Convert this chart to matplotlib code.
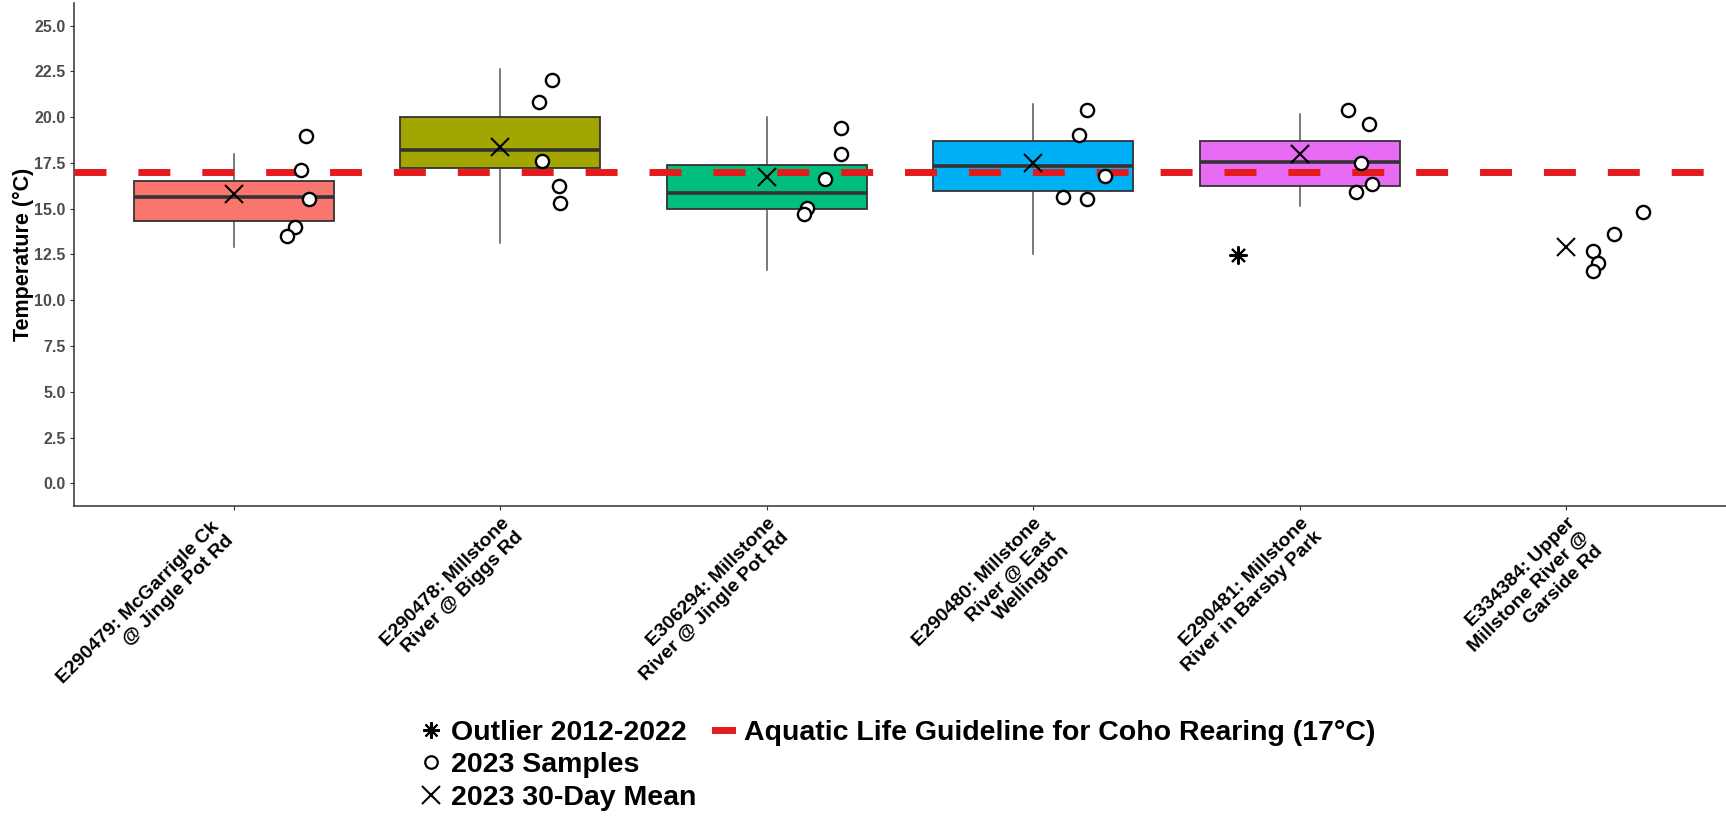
import numpy as np
import matplotlib
matplotlib.use("Agg")
import matplotlib.pyplot as plt
from matplotlib.lines import Line2D
from matplotlib.transforms import ScaledTranslation

plt.rcParams['font.family'] = ['Liberation Sans', 'DejaVu Sans']

sites = [
    "E290479: McGarrigle Ck\n@ Jingle Pot Rd",
    "E290478: Millstone\nRiver @ Biggs Rd",
    "E306294: Millstone\nRiver @ Jingle Pot Rd",
    "E290480: Millstone\nRiver @ East\nWellington",
    "E290481: Millstone\nRiver in Barsby Park",
    "E334384: Upper\nMillstone River @\nGarside Rd",
]
box_colors = ["#F8766D", "#A3A500", "#00BF7D", "#00B0F6", "#E76BF3"]

# 2012-2022 box stats: whisker low, q1, median, q3, whisker high (last site has none)
whislo = [12.93, 13.15, 11.64, 12.55, 15.15]
q1 = [14.33, 17.21, 14.97, 15.97, 16.25]
med = [15.66, 18.23, 15.88, 17.32, 17.57]
q3 = [16.52, 20.02, 17.39, 18.72, 18.72]
whishi = [18.0, 22.62, 20.0, 20.71, 20.2]

# outlier 2012-2022 (site index, value, jitter)
outlier_site = 4
outlier_val = 12.49
outlier_jit = -0.23

# 2023 30-day means
means = [15.8, 18.39, 16.75, 17.49, 17.98, 12.93]

# 2023 samples and their jitter
samples = [
    [19.0, 17.12, 15.52, 14.02, 13.51],
    [22.02, 20.82, 17.63, 16.23, 15.32],
    [19.42, 18.01, 16.63, 15.06, 14.72],
    [20.42, 19.02, 16.81, 15.63, 15.52],
    [20.42, 19.63, 17.52, 16.34, 15.92],
    [14.83, 13.62, 12.71, 12.02, 11.62],
]
jitter = [
    [0.27, 0.25, 0.28, 0.23, 0.20],
    [0.195, 0.146, 0.155, 0.22, 0.225],
    [0.28, 0.28, 0.22, 0.15, 0.14],
    [0.20, 0.17, 0.27, 0.11, 0.20],
    [0.18, 0.26, 0.23, 0.27, 0.21],
    [0.29, 0.18, 0.10, 0.12, 0.10],
]

guideline = 17.0

fig = plt.figure(figsize=(17.26, 8.17), dpi=100)
ax = fig.add_axes([0.0429, 0.3805, 0.9571, 0.616])

stats = []
for i in range(len(q1)):
    stats.append(dict(whislo=whislo[i], q1=q1[i], med=med[i], q3=q3[i],
                      whishi=whishi[i], fliers=[]))
bp = ax.bxp(stats, positions=np.arange(1, len(q1) + 1), widths=0.75,
            patch_artist=True, showfliers=False, showcaps=False,
            boxprops=dict(edgecolor="#333333", linewidth=1.3),
            medianprops=dict(color="#333333", linewidth=2.6),
            whiskerprops=dict(color="#555555", linewidth=1.1))
for patch, c in zip(bp['boxes'], box_colors):
    patch.set_facecolor(c)
for w in bp['whiskers']:
    w.set_zorder(1)

ax.axhline(guideline, color="#E41A1C", linewidth=5, linestyle=(0, (4.6, 4.6)), zorder=3)

for i, (vals, jit) in enumerate(zip(samples, jitter)):
    ax.plot(i + 1 + np.array(jit), vals, 'o', markersize=9.5, markerfacecolor='white',
            markeredgecolor='black', markeredgewidth=1.7, linestyle='none', zorder=5)

ax.plot(np.arange(1, len(means) + 1), means, 'x', markersize=13, color='black',
        markeredgewidth=1.5, linestyle='none', zorder=6)
ax.plot([outlier_site + 1 + outlier_jit], [outlier_val], marker=(8, 2, 0), markersize=13,
        color='black', markeredgewidth=1.5, linestyle='none', zorder=6)

ax.set_xlim(0.4, 6.6)
ax.set_ylim(-1.25, 26.25)
ax.set_yticks(np.arange(0, 25.1, 2.5))
ax.set_yticklabels([f"{v:.1f}" for v in np.arange(0, 25.1, 2.5)],
                   fontsize=11.5, fontweight='bold', color="#4D4D4D")
ax.set_xticks(np.arange(1, len(sites) + 1))
ax.set_xticklabels([])
# rotated site labels, drawn by hand so each one can be nudged
for k, name in enumerate(sites):
    dx = -23 if k == 0 else 0
    dy = -4 if k == 0 else 0
    off = ScaledTranslation(dx / 100, (dy - 8.3) / 100, fig.dpi_scale_trans)
    ax.text(k + 1, 0, name, transform=ax.get_xaxis_transform() + off,
            rotation=45, ha='right', va='top', rotation_mode='anchor',
            multialignment='right', fontsize=14, fontweight='bold', color='black')
ax.set_ylabel("Temperature (°C)", fontsize=15.5, fontweight='bold', labelpad=0)
for s in ['top', 'right']:
    ax.spines[s].set_visible(False)
for s in ['left', 'bottom']:
    ax.spines[s].set_color("#333333")
    ax.spines[s].set_linewidth(1.1)
ax.tick_params(axis='both', length=3, width=0.8, color="#333333", pad=3)

blank = Line2D([], [], linestyle='none')
handles = [
    Line2D([], [], marker=(8, 2, 0), color='black', markersize=12, markeredgewidth=1.5, linestyle='none'),
    Line2D([], [], marker='o', markerfacecolor='white', markeredgecolor='black', markersize=9,
           markeredgewidth=1.6, linestyle='none'),
    Line2D([], [], marker='x', color='black', markersize=13, markeredgewidth=1.5, linestyle='none'),
    Line2D([], [], color="#E41A1C", linewidth=5),
    blank, blank,
]
labels = ["Outlier 2012-2022", "2023 Samples", "2023 30-Day Mean",
          "Aquatic Life Guideline for Coho Rearing (17°C)", "", ""]
fig.legend(handles, labels, loc='upper left', bbox_to_anchor=(0.245, 0.1185),
           ncol=2, frameon=False, handlelength=0.6, handletextpad=0.4, columnspacing=0.65,
           labelspacing=0.22, borderaxespad=0, borderpad=0,
           prop=dict(size=20.5, weight='bold'))

fig.savefig("out.png", dpi=100)
